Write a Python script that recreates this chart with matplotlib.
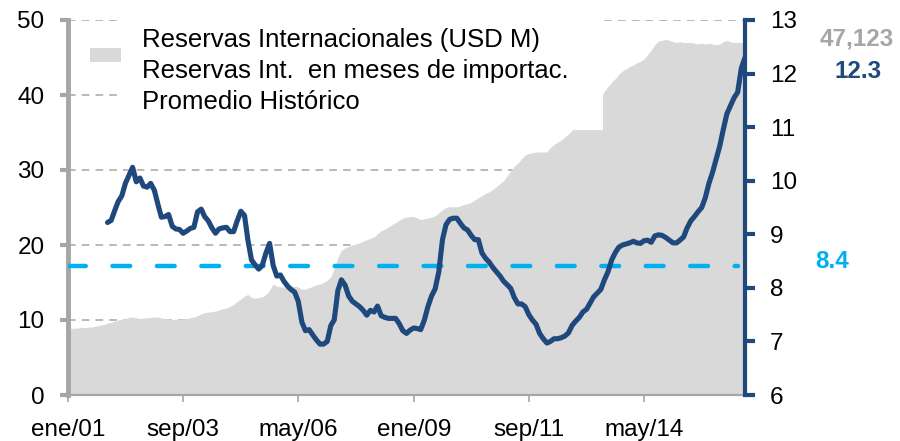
import pandas as pd
import matplotlib
matplotlib.use('Agg')
from matplotlib import pyplot as plt
from matplotlib.patches import Rectangle

plt.rcParams['font.family'] = ['Liberation Sans', 'DejaVu Sans']

# reservas internacionales, miles de millones USD (ene/01 - sep/16)
reservas = [
    8.9, 8.9, 8.9, 8.95, 9.0, 9.0, 9.05, 9.1, 9.2, 9.3, 9.4, 9.6,
    9.7, 9.85, 10.0, 10.1, 10.2, 10.35, 10.4, 10.3, 10.2, 10.25, 10.3, 10.35,
    10.4, 10.4, 10.3, 10.2, 10.15, 10.1, 10.1, 10.1, 10.15, 10.2, 10.3, 10.4,
    10.6, 10.8, 11.0, 11.05, 11.1, 11.2, 11.35, 11.5, 11.6, 11.8, 12.1, 12.5,
    12.8, 13.2, 13.4, 13.0, 12.9, 13.0, 13.1, 13.4, 14.0, 14.8, 14.5, 14.4,
    14.4, 14.4, 14.5, 14.5, 14.4, 14.1, 14.1, 14.3, 14.5, 14.7, 14.8, 15.0,
    15.3, 15.8, 16.9, 18.3, 19.3, 19.6, 19.8, 20.0, 20.1, 20.3, 20.5, 20.7,
    20.9, 21.1, 21.5, 21.9, 22.1, 22.4, 22.7, 23.0, 23.3, 23.6, 23.7, 23.8,
    23.8, 23.6, 23.4, 23.5, 23.6, 23.7, 23.9, 24.3, 24.7, 25.0, 25.1, 25.1,
    25.1, 25.2, 25.4, 25.5, 25.7, 26.0, 26.3, 26.6, 26.9, 27.1, 27.4, 27.8,
    28.2, 28.6, 29.2, 29.9, 30.5, 30.9, 31.5, 32.0, 32.2, 32.3, 32.4, 32.4,
    32.4, 32.4, 33.0, 33.4, 33.7, 34.0, 34.4, 34.8, 35.3, 35.8, 36.3, 36.8,
    37.4, 37.9, 38.5, 39.0, 39.7, 40.5, 41.1, 41.7, 42.2, 42.8, 43.2, 43.5,
    43.8, 44.0, 44.3, 44.5, 44.8, 45.4, 46.0, 46.7, 47.2, 47.3, 47.4, 47.3,
    47.1, 47.0, 47.1, 47.0, 47.0, 47.0, 46.9, 46.8, 46.9, 46.8, 46.9, 46.8,
    46.7, 46.8, 47.1, 47.3, 47.1, 47.0, 47.0, 47.0, 47.1,
]

# reservas en meses de importaciones (dic/01 - sep/16)
meses = [
    9.22,
    9.26, 9.45, 9.61, 9.72, 9.95, 10.10, 10.25, 9.98, 10.05, 9.90, 9.88, 9.95,
    9.82, 9.55, 9.32, 9.33, 9.37, 9.15, 9.10, 9.09, 9.02, 9.06, 9.11, 9.13,
    9.42, 9.47, 9.33, 9.25, 9.12, 9.02, 9.10, 9.12, 9.13, 9.05, 9.05, 9.25,
    9.43, 9.35, 8.90, 8.52, 8.43, 8.35, 8.42, 8.65, 8.83, 8.42, 8.22, 8.24,
    8.12, 8.03, 7.97, 7.92, 7.75, 7.36, 7.20, 7.22, 7.12, 7.03, 6.95, 6.95,
    7.00, 7.30, 7.40, 7.95, 8.15, 8.05, 7.85, 7.75, 7.70, 7.65, 7.58, 7.49,
    7.58, 7.55, 7.66, 7.48, 7.45, 7.43, 7.43, 7.43, 7.33, 7.20, 7.15, 7.21,
    7.25, 7.24, 7.22, 7.40, 7.65, 7.85, 7.98, 8.30, 8.90, 9.18, 9.28, 9.30,
    9.30, 9.20, 9.12, 9.08, 8.98, 8.90, 8.90, 8.65, 8.55, 8.48, 8.38, 8.30,
    8.22, 8.12, 8.06, 7.99, 7.82, 7.70, 7.70, 7.65, 7.50, 7.40, 7.32, 7.15,
    7.05, 6.97, 7.00, 7.05, 7.05, 7.07, 7.10, 7.16, 7.30, 7.38, 7.45, 7.55,
    7.60, 7.72, 7.83, 7.90, 7.97, 8.15, 8.30, 8.52, 8.66, 8.76, 8.80, 8.82,
    8.84, 8.87, 8.84, 8.83, 8.88, 8.89, 8.85, 8.97, 8.99, 8.98, 8.94, 8.89,
    8.84, 8.84, 8.89, 8.95, 9.12, 9.25, 9.33, 9.42, 9.50, 9.68, 9.95, 10.15,
    10.40, 10.65, 10.95, 11.25, 11.40, 11.55, 11.65, 12.10, 12.30,
]

promedio = 8.4
ultimo_reservas = 47123
ultimo_meses = 12.3

tick_fechas = ['2001-01-01', '2003-09-01', '2006-05-01', '2009-01-01', '2011-09-01', '2014-05-01']
tick_labels = ['ene/01', 'sep/03', 'may/06', 'ene/09', 'sep/11', 'may/14']
leyenda = ['Reservas Internacionales (USD M)',
           'Reservas Int.  en meses de importac.',
           'Promedio Histórico']

fechas = pd.date_range('2001-01-01', periods=len(reservas), freq='MS')
fechas_meses = pd.date_range('2001-12-01', periods=len(meses), freq='MS')

gris = '#D9D9D9'
gris_eje = '#A6A6A6'
azul = '#1F497D'
celeste = '#00B0F0'

fig = plt.figure(figsize=(9, 4.41), dpi=100)
ax = fig.add_axes([68 / 900, 46 / 441, 677 / 900, 375 / 441])
ax2 = ax.twinx()

ax.fill_between(fechas, 0, reservas, color=gris, lw=0, zorder=1)
ax.set_ylim(0, 50)
ax.set_yticks(range(0, 51, 10))
ax.set_xlim(fechas[0], fechas[-1])
ax.yaxis.grid(True, color=gris_eje, ls=(0, (5, 4)), lw=1.1)
ax.set_axisbelow(True)

ax2.plot(fechas_meses, meses, color=azul, lw=3.7, solid_joinstyle='round',
         solid_capstyle='round', zorder=3)
ax2.plot([fechas[0], fechas[-3]], [promedio, promedio], color=celeste, lw=3.2,
         ls=(0, (4, 6)), dash_capstyle='round', zorder=2)
ax2.set_ylim(6, 13)
ax2.set_yticks(range(6, 14))
ax2.set_xlim(fechas[0], fechas[-1])

ax.set_xticks(pd.to_datetime(tick_fechas))
ax.set_xticklabels(tick_labels)

for s in ['top', 'right']:
    ax.spines[s].set_visible(False)
for s in ['top', 'left', 'bottom']:
    ax2.spines[s].set_visible(False)
ax.spines['left'].set_color(gris_eje)
ax.spines['left'].set_linewidth(3.5)
ax.spines['bottom'].set_color(gris_eje)
ax.spines['bottom'].set_linewidth(1.6)
ax2.spines['right'].set_color(azul)
ax2.spines['right'].set_linewidth(3)

ax.tick_params(axis='y', length=6, width=3, color=gris_eje, labelsize=17.5, pad=11)
ax.tick_params(axis='x', length=5, width=1.2, color=gris_eje, labelsize=17.5, pad=12)
ax2.tick_params(axis='y', length=7, width=3, color=azul, labelsize=17.5, pad=11)

# leyenda
fig.add_artist(Rectangle((117 / 900, 1 - 130 / 441), 486 / 900, 116 / 441,
                         transform=fig.transFigure, facecolor='white',
                         edgecolor='none', zorder=1))
fig.add_artist(Rectangle((90 / 900, 1 - 62 / 441), 31 / 900, 14 / 441,
                         transform=fig.transFigure, facecolor=gris,
                         edgecolor='none', zorder=2))
for i, t in enumerate(leyenda):
    fig.text(142 / 900, 1 - (40 + 31 * i) / 441, t, fontsize=18.5,
             va='center', ha='left', zorder=3)

fig.text(857 / 900, 1 - 39 / 441, f'{ultimo_reservas:,}', fontsize=17.5,
         fontweight='bold', color=gris_eje, ha='center', va='center')
fig.text(858 / 900, 1 - 72 / 441, f'{ultimo_meses}', fontsize=17.5,
         fontweight='bold', color=azul, ha='center', va='center')
fig.text(832 / 900, 1 - 261 / 441, f'{promedio}', fontsize=17.5,
         fontweight='bold', color=celeste, ha='center', va='center')

fig.savefig('out.png', dpi=100)
plt.close()
